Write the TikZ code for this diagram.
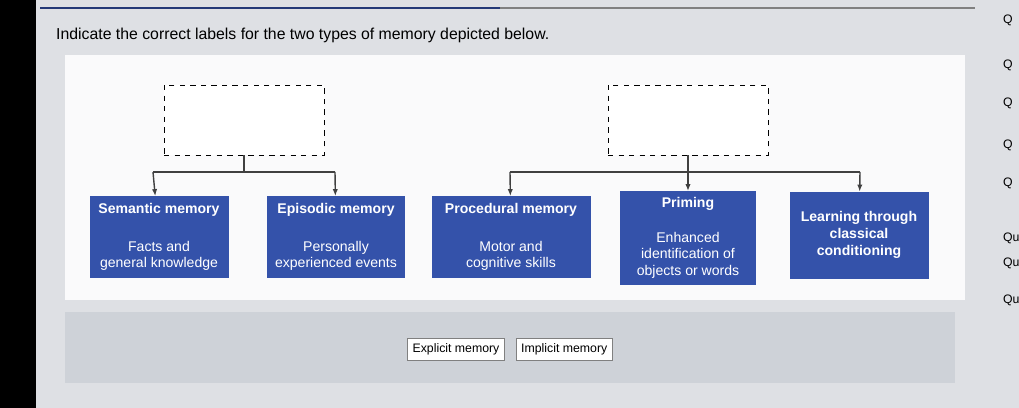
\documentclass[tikz,border=0pt]{standalone}
\usepackage{fontspec}
\setmainfont{Liberation Sans}
\usetikzlibrary{positioning,arrows.meta}
\definecolor{memblue}{RGB}{52,82,170}
\definecolor{screengray}{RGB}{222,224,228}
\definecolor{panelgray}{RGB}{206,210,216}
\begin{document}
\begin{tikzpicture}[x=0.02cm, y=-0.02cm,
    memtype/.style={draw=memblue, fill=memblue, text=white, align=center, font=\footnotesize, inner sep=2pt},
    blank/.style={draw=black, dashed, fill=white, minimum width=3.2cm, minimum height=1.4cm},
    choice/.style={draw=gray, fill=white, font=\scriptsize, inner sep=3pt},
    link/.style={-{Latex[length=4pt]}, thick, black!75},
    branch/.style={thick, black!75}
]
    % screen
    \useasboundingbox (0,0) rectangle (1019,408);
    \fill[screengray] (0,0) rectangle (1019,408);
    \fill[black] (0,0) rectangle (36,408);
    \draw[memblue!70!black, line width=1.5pt] (40,8) -- (500,8);
    \draw[gray, line width=1pt] (500,8) -- (975,8);
    \node[anchor=west, font=\small] (title) at (50,35) {Indicate the correct labels for the two types of memory depicted below.};
    \fill[white!85!screengray] (65,55) rectangle (965,300);

    % blanks
    \node[blank] (explicit) at (244,120) {};
    \node[blank] (implicit) at (688,120) {};

    % memory types
    \node[memtype, minimum width=2.76cm, minimum height=1.62cm] (semantic) at (159,237) {\textbf{Semantic memory}\\[12pt]Facts and\\general knowledge};
    \node[memtype, minimum width=2.74cm, minimum height=1.62cm] (episodic) at (336,237) {\textbf{Episodic memory}\\[12pt]Personally\\experienced events};
    \node[memtype, minimum width=3.16cm, minimum height=1.62cm] (procedural) at (511,237) {\textbf{Procedural memory}\\[12pt]Motor and\\cognitive skills};
    \node[memtype, minimum width=2.7cm, minimum height=1.86cm] (priming) at (688,238) {\textbf{Priming}\\[10pt]Enhanced\\identification of\\objects or words};
    \node[memtype, minimum width=2.76cm, minimum height=1.72cm] (conditioning) at (859,235) {\textbf{Learning through}\\\textbf{classical}\\\textbf{conditioning}};

    % connectors
    \coordinate (ej) at (244,172);
    \coordinate (ij) at (688,172);
    \draw[branch] (explicit) -- (ej);
    \draw[branch] (153,172) -- (335,172);
    \draw[link] (153,172) -- (semantic);
    \draw[link] (335,172) -- (episodic);
    \draw[branch] (implicit) -- (ij);
    \draw[branch] (510,172) -- (860,172);
    \draw[link] (510,172) -- (procedural);
    \draw[link] (ij) -- (priming);
    \draw[link] (860,172) -- (conditioning);

    % answer bank
    \fill[panelgray] (65,312) rectangle (955,383);
    \node[choice] (explicitlbl) at (456,349) {Explicit memory};
    \node[choice, right=6pt of explicitlbl] (implicitlbl) {Implicit memory};

    % side list
    \foreach \y/\t in {20/Q, 65/Q, 103/Q, 145/Q, 183/Q, 238/Qu, 263/Qu, 300/Qu}
        \node[anchor=west, font=\scriptsize, inner sep=1pt] at (1001,\y) {\t};
\end{tikzpicture}
\end{document}
